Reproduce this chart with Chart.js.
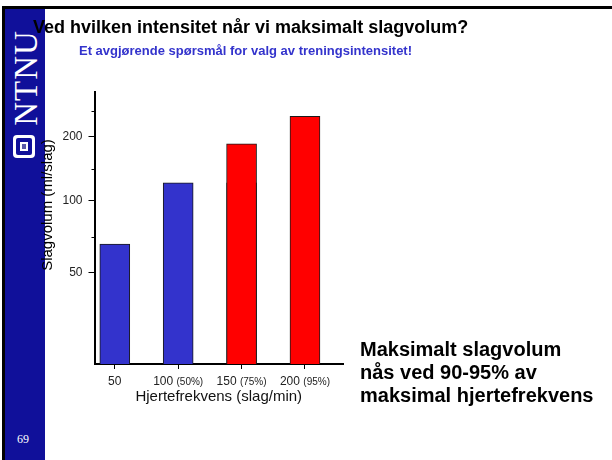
<!DOCTYPE html>
<html lang="no">
<head>
<meta charset="utf-8">
<title>Slagvolum og hjertefrekvens</title>
<script src="https://cdn.jsdelivr.net/npm/chart.js@4.4.1/dist/chart.umd.min.js"></script>
<style>
  html, body { margin: 0; padding: 0; background: #fff; }
  body { width: 612px; height: 460px; position: relative; overflow: hidden;
         font-family: "Liberation Sans", Arial, Helvetica, sans-serif; }
  #frame { position: absolute; left: 2px; top: 6px; right: 0; bottom: 0;
           border-top: 3px solid #000; border-left: 3px solid #000; }
  #sidebar { position: absolute; left: 5px; top: 9px; width: 40px; bottom: 0; background: #10109a; }
  #brand { position: absolute; left: -37px; top: 53px; width: 112px; height: 32px; line-height: 32px;
           text-align: center; color: #fff; font: 33px "Liberation Serif", "Times New Roman", serif;
           transform: rotate(-90deg); letter-spacing: 1px; }
  #logo { position: absolute; left: 8px; top: 126px; width: 22px; height: 23px; background: #fff; border-radius: 4px; }
  #logo div { position: absolute; left: 3px; top: 3px; width: 16px; height: 17px; background: #10109a; border-radius: 2px; }
  #logo span { position: absolute; left: 7px; top: 7px; width: 8px; height: 9px; background: #fff; }
  #logo span i { position: absolute; left: 2px; top: 2px; width: 4px; height: 5px; background: #5a5aa8; }
  #page { position: absolute; left: 12px; top: 423px; color: #fff; font: 12px "Liberation Serif", serif; }
  #chart { position: absolute; left: 0; top: 0; }
  #title { position: absolute; left: 33px; top: 18px; font-weight: bold; font-size: 18px; line-height: 18px; color: #000; white-space: nowrap; }
  #subtitle { position: absolute; left: 79px; top: 44px; font-weight: bold; font-size: 13px; line-height: 13px; color: #3333cc; white-space: nowrap; }
  #ytitle { position: absolute; left: -28px; top: 196px; width: 150px; height: 18px; line-height: 18px;
            text-align: center; font-size: 15px; color: #000; transform: rotate(-90deg); white-space: nowrap; }
  #note { position: absolute; left: 360px; top: 338px; font-weight: bold; font-size: 20px; line-height: 22.8px; color: #000; white-space: nowrap; }
</style>
</head>
<body>
<div id="frame"></div>
<div id="sidebar">
  <div id="brand">NTNU</div>
  <div id="logo"><div></div><span><i></i></span></div>
  <div id="page">69</div>
</div>
<canvas id="chart" width="612" height="460"></canvas>
<div id="title">Ved hvilken intensitet når vi maksimalt slagvolum?</div>
<div id="subtitle">Et avgjørende spørsmål for valg av treningsintensitet!</div>
<div id="ytitle">Slagvolum (ml/slag)</div>
<div id="note">Maksimalt slagvolum<br>nås ved 90-95% av<br>maksimal hjertefrekvens</div>

<script>
// heart rate groups and the stroke volume at each
var heartRates = [50, 100, 150, 200];
var rateLabels = ['50', '100', '150', '200'];
var rateShares = ['', '(50%)', '(75%)', '(95%)'];
var blueVolumes = [70, 128, 128, null];
var redVolumes = [null, null, 189, 240];
var volumeTicks = [50, 100, 200];
var minorVolumeTicks = [75, 150, 250];

// the y axis is stretched unevenly: value -> share of the axis height
var AXIS_KNOTS = [[0, 0], [50, 0.335], [100, 0.6], [200, 0.835], [250, 0.93], [287, 1]];

function toAxis(v) {
  for (var i = 1; i < AXIS_KNOTS.length; i++) {
    var a = AXIS_KNOTS[i - 1], b = AXIS_KNOTS[i];
    if (v <= b[0] || i === AXIS_KNOTS.length - 1) {
      return a[1] + (v - a[0]) * (b[1] - a[1]) / (b[0] - a[0]);
    }
  }
}
function fromAxis(d) {
  for (var i = 1; i < AXIS_KNOTS.length; i++) {
    var a = AXIS_KNOTS[i - 1], b = AXIS_KNOTS[i];
    if (d <= b[1] || i === AXIS_KNOTS.length - 1) {
      return a[0] + (d - a[1]) * (b[0] - a[0]) / (b[1] - a[1]);
    }
  }
}

var LinearScale = Chart.LinearScale || Chart.registry.getScale('linear');

class SegmentScale extends LinearScale {
  getPixelForValue(value) {
    if (value === null || isNaN(value)) return NaN;
    return this.getPixelForDecimal(toAxis(value));
  }
  getValueForPixel(pixel) {
    return fromAxis(this.getDecimalForPixel(pixel));
  }
}
SegmentScale.id = 'segment';
Chart.register(SegmentScale);

function points(values) {
  var out = [];
  values.forEach(function (v, i) {
    if (v !== null) out.push({ x: heartRates[i], y: v });
  });
  return out;
}

var FONT = '"Liberation Sans", Arial, sans-serif';

// x labels mix a big number with a small percentage, so they are drawn by hand
var rateLabelPlugin = {
  id: 'rateLabels',
  afterDraw: function (chart) {
    var ctx = chart.ctx;
    var xs = chart.scales.x;
    var ys = chart.scales.y;
    ctx.save();
    ctx.fillStyle = '#222';
    ctx.textBaseline = 'alphabetic';
    ctx.textAlign = 'left';
    heartRates.forEach(function (rate, i) {
      var px = xs.getPixelForValue(rate);
      ctx.font = '12px ' + FONT;
      var main = rateLabels[i] + (rateShares[i] ? ' ' : '');
      var w1 = ctx.measureText(main).width;
      ctx.font = '10px ' + FONT;
      var w2 = rateShares[i] ? ctx.measureText(rateShares[i]).width : 0;
      var x0 = px - (w1 + w2) / 2;
      ctx.font = '12px ' + FONT;
      ctx.fillText(main, x0, 385);
      if (rateShares[i]) {
        ctx.font = '10px ' + FONT;
        ctx.fillText(rateShares[i], x0 + w1, 385);
      }
    });
    // short unlabelled ticks on the y axis
    ctx.strokeStyle = '#000';
    ctx.lineWidth = 1;
    minorVolumeTicks.forEach(function (v) {
      var py = Math.round(ys.getPixelForValue(v)) + 0.5;
      ctx.beginPath();
      ctx.moveTo(ys.right - 3, py);
      ctx.lineTo(ys.right, py);
      ctx.stroke();
    });
    ctx.restore();
  }
};

new Chart(document.getElementById('chart'), {
  type: 'bar',
  data: {
    datasets: [{
      label: 'Høy intensitet',
      data: points(redVolumes),
      backgroundColor: '#ff0000',
      borderColor: '#1a1a1a',
      borderWidth: 1,
      barThickness: 30,
      grouped: false,
      order: 0
    }, {
      label: 'Lav intensitet',
      data: points(blueVolumes),
      backgroundColor: '#3333cc',
      borderColor: '#1a1a1a',
      borderWidth: 1,
      barThickness: 30,
      grouped: false,
      order: 1
    }]
  },
  options: {
    responsive: false,
    animation: false,
    events: [],
    layout: { padding: { left: 37, top: 92, right: 269, bottom: 54 } },
    plugins: {
      legend: { display: false },
      tooltip: { enabled: false },
      title: { display: false }
    },
    scales: {
      x: {
        type: 'linear',
        min: 34,
        max: 230,
        offset: false,
        afterBuildTicks: function (scale) {
          scale.ticks = heartRates.map(function (v) { return { value: v }; });
        },
        afterFit: function (scale) { scale.height = 42; },
        ticks: { display: false },
        grid: { offset: false, drawOnChartArea: false, drawTicks: true, tickLength: 5, tickColor: '#000' },
        border: { color: '#000', width: 2 },
        title: {
          display: true,
          text: 'Hjertefrekvens (slag/min)',
          color: '#111',
          font: { family: FONT, size: 15 },
          padding: { top: 0, bottom: 0 }
        }
      },
      y: {
        type: 'segment',
        min: 0,
        max: 287,
        afterBuildTicks: function (scale) {
          scale.ticks = volumeTicks.map(function (v) { return { value: v }; });
        },
        afterFit: function (scale) { scale.width = 57.5; },
        ticks: {
          color: '#222',
          font: { family: FONT, size: 12 },
          padding: 6,
          callback: function (value) { return String(value); }
        },
        grid: { drawOnChartArea: false, drawTicks: true, tickLength: 6, tickColor: '#000' },
        border: { color: '#000', width: 2 }
      }
    }
  },
  plugins: [rateLabelPlugin]
});
</script>
</body>
</html>
